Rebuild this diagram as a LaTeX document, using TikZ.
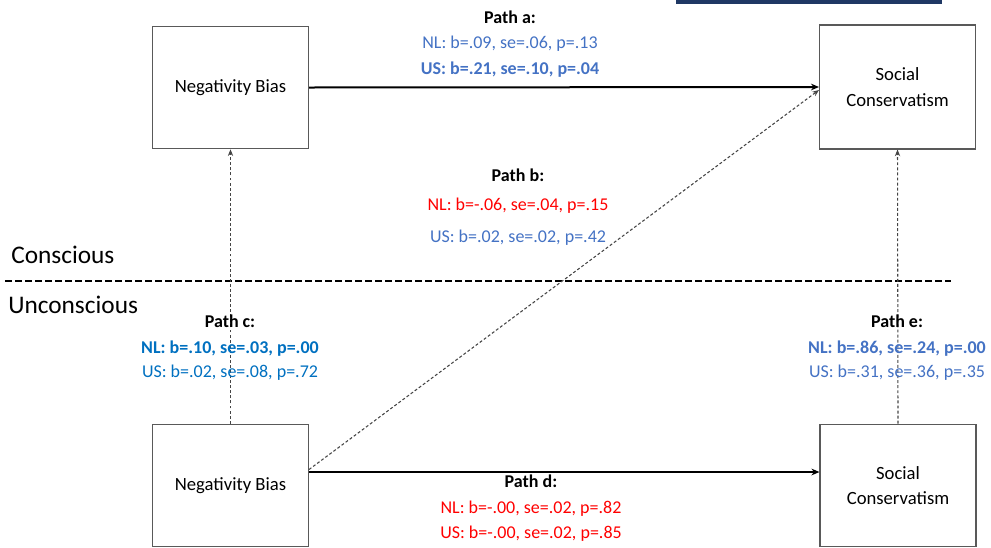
\documentclass[tikz,border=0pt]{standalone}
\usepackage{fontspec}
\setmainfont{Carlito}
\usetikzlibrary{calc,arrows.meta}
\definecolor{lblue}{HTML}{4472C4}
\definecolor{cblue}{HTML}{0070C0}
\definecolor{lred}{HTML}{FF0000}
\definecolor{navy}{HTML}{1F3864}
\definecolor{boxgray}{HTML}{595959}
\definecolor{dotgray}{HTML}{454545}
\begin{document}
\begin{tikzpicture}[x=0.75pt,y=-0.75pt,
  box/.style={draw=boxgray,line width=0.8pt,minimum width=117pt,minimum height=92pt,inner sep=0pt,align=center,font=\fontsize{14}{19}\selectfont},
  lbl/.style={anchor=base,inner sep=0pt,font=\fontsize{13.5}{16}\selectfont},
  solidarr/.style={line width=1.5pt,-{Stealth[length=6pt,width=5pt]}},
  dotarr/.style={dotgray,line width=0.8pt,dash pattern=on 2.2pt off 1.6pt,-{Stealth[length=5pt,width=4pt]}},
  sep/.style={line width=1.6pt,dash pattern=on 5pt off 2.5pt}
]
\useasboundingbox (0,0) rectangle (991,547);
\fill[navy] (676,0) rectangle (942,3.5);

% boxes
\node[box] (nb1) at (230.5,87.5) {Negativity Bias};
\node[box,minimum height=93pt] (sc1) at (897.5,87) {Social\\Conservatism};
\node[box] (nb2) at (230.5,485.5) {Negativity Bias};
\node[box] (sc2) at (898,485.5) {Social\\Conservatism};

% separator
\coordinate (sepL) at (5,281);
\coordinate (sepR) at (951,281);
\draw[sep] (sepL) -- (sepR);
\node[anchor=base west,inner sep=0pt,font=\fontsize{19}{22}\selectfont] (cons) at (11,263) {Conscious};
\node[anchor=base west,inner sep=0pt,font=\fontsize{19}{22}\selectfont] (uncons) at (8,313) {Unconscious};

% connectors
\draw[solidarr] (nb1.east) -- (sc1.west);
\draw[solidarr] ($(nb2.east)+(0,-13.5)$) -- ($(sc2.west)+(0,-13.5)$);
\draw[dotarr] ($(nb2.east)+(0,-16)$) -- ($(sc1.west)+(0,3)$);
\draw[dotarr] (nb2.north) -- (nb1.south);
\draw[dotarr] (sc2.north) -- (sc1.south);

% Path a
\node[lbl,font=\fontsize{13.5}{16}\selectfont\bfseries] (pa) at (510,23) {Path a:};
\node[lbl,text=lblue] (pa1) at (510,48) {NL: b=.09, se=.06, p=.13};
\node[lbl,text=lblue,font=\fontsize{13.5}{16}\selectfont\bfseries] (pa2) at (510,74) {US: b=.21, se=.10, p=.04};

% Path b
\node[lbl,font=\fontsize{13.5}{16}\selectfont\bfseries] (pb) at (518,181) {Path b:};
\node[lbl,text=lred] (pb1) at (518,210) {NL: b=-.06, se=.04, p=.15};
\node[lbl,text=lblue] (pb2) at (518,242) {US: b=.02, se=.02, p=.42};

% Path c
\node[lbl,font=\fontsize{13.5}{16}\selectfont\bfseries] (pc) at (230,327) {Path c:};
\node[lbl,text=cblue,font=\fontsize{13.5}{16}\selectfont\bfseries] (pc1) at (230,353) {NL: b=.10, se=.03, p=.00};
\node[lbl,text=cblue] (pc2) at (230,377) {US: b=.02, se=.08, p=.72};

% Path e
\node[lbl,font=\fontsize{13.5}{16}\selectfont\bfseries] (pe) at (897,327) {Path e:};
\node[lbl,text=lblue,font=\fontsize{13.5}{16}\selectfont\bfseries] (pe1) at (897,353) {NL: b=.86, se=.24, p=.00};
\node[lbl,text=lblue] (pe2) at (897,377) {US: b=.31, se=.36, p=.35};

% Path d
\node[lbl,font=\fontsize{13.5}{16}\selectfont\bfseries] (pd) at (531,487) {Path d:};
\node[lbl,text=lred] (pd1) at (531,513) {NL: b=-.00, se=.02, p=.82};
\node[lbl,text=lred] (pd2) at (531,538) {US: b=-.00, se=.02, p=.85};
\end{tikzpicture}
\end{document}
